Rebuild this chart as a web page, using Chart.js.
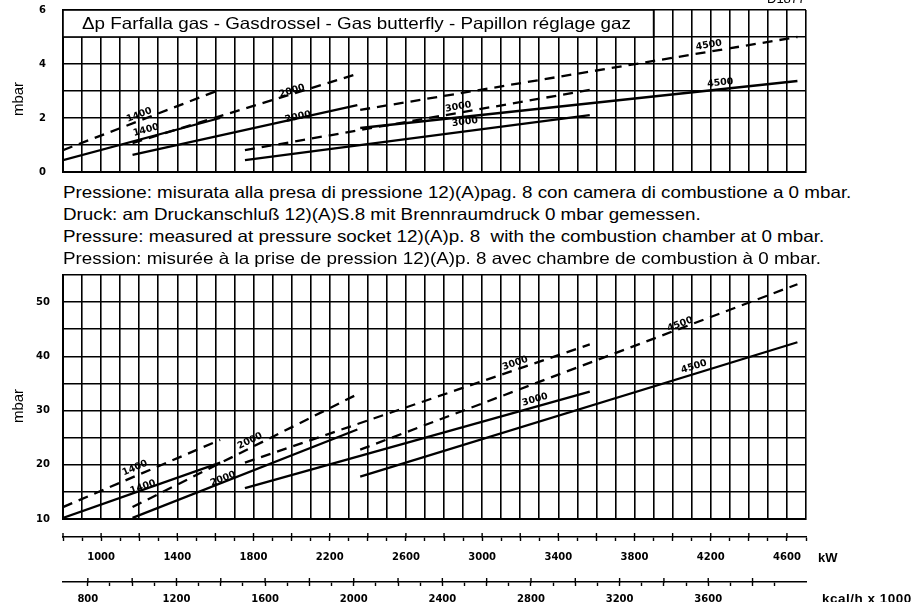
<!DOCTYPE html>
<html>
<head>
<meta charset="utf-8">
<script src="https://cdn.jsdelivr.net/npm/chart.js@4.4.0/dist/chart.umd.min.js"></script>
<style>
  html, body { margin: 0; padding: 0; background: #fff; }
  body { width: 915px; height: 602px; overflow: hidden; position: relative;
         font-family: "Liberation Sans", Arial, sans-serif; color: #000; }
  canvas { position: absolute; left: 0; }
  #topChart { top: 0; }
  #bottomChart { top: 262px; }
  .txt { position: absolute; white-space: nowrap; }
  .wide { transform: scaleX(1.14); transform-origin: 0 0; }
  .note { left: 63px; font-size: 16.5px; line-height: 17px; }
  .ylab { width: 60px; height: 16px; line-height: 16px; text-align: center;
          font-size: 15px; transform: rotate(-90deg); }
  .unit { font-weight: bold; font-size: 13px; line-height: 13px; }
</style>
</head>
<body>
<canvas id="topChart" width="915" height="180"></canvas>
<canvas id="bottomChart" width="915" height="346"></canvas>

<div class="txt" style="left:767px; top:-9px; font-size:13px;">D1877</div>
<div class="txt wide" style="left:82px; top:15px; font-size:16.5px; line-height:17px;">Δp Farfalla gas - Gasdrossel - Gas butterfly - Papillon réglage gaz</div>
<div class="txt ylab" style="left:-12px; top:91px;">mbar</div>
<div class="txt ylab" style="left:-12px; top:398px;">mbar</div>

<div class="txt note wide" style="top:184px;">Pressione: misurata alla presa di pressione 12)(A)pag. 8 con camera di combustione a 0 mbar.</div>
<div class="txt note wide" style="top:206px;">Druck: am Druckanschluß 12)(A)S.8 mit Brennraumdruck 0 mbar gemessen.</div>
<div class="txt note wide" style="top:228px;">Pressure: measured at pressure socket 12)(A)p. 8&nbsp; with the combustion chamber at 0 mbar.</div>
<div class="txt note wide" style="top:250px;">Pression: misurée à la prise de pression 12)(A)p. 8 avec chambre de combustion à 0 mbar.</div>

<div class="txt unit" style="left:818px; top:551px;">kW</div>
<div class="txt unit" style="left:822px; top:592px; font-size:13.5px; letter-spacing:0.5px;">kcal/h x 1000</div>

<script>
// ----------------------------------------------------------------------
// Data (kW on x, mbar on y)
// ----------------------------------------------------------------------
const gasSizes = ['1400', '2000', '3000', '4500'];
const kwStart  = [800, 1165, 1755, 2360];
const kwEnd    = [1625, 2345, 3565, 4655];

// upper diagram: gas butterfly
const topDashedStart = [0.81, 1.07, 0.81, 2.30];
const topDashedEnd   = [3.05, 3.63, 3.04, 5.00];
const topSolidStart  = [0.44, 0.63, 0.44, 1.63];
const topSolidEnd    = [2.00, 2.48, 2.11, 3.37];
const topTagDashedKw = [1200, 2002, 2875, 4190];
const topTagDashedP  = [2.11, 3.00, 2.41, 4.70];
const topTagSolidKw  = [1236, 2033, 2910, 4250];
const topTagSolidP   = [1.55, 2.04, 1.85, 3.30];

// lower diagram: pressure at socket
const botDashedStart = [12.2, 12.2, 20.4, 22.8];
const botDashedEnd   = [24.6, 33.0, 42.2, 53.3];
const botSolidStart  = [10.2, 10.2, 15.7, 17.8];
const botSolidEnd    = [20.4, 26.5, 33.5, 42.6];
const botTagDashedKw = [1178, 1782, 3173, 4039];
const botTagDashedP  = [19.4, 24.4, 38.7, 45.9];
const botTagSolidKw  = [1220, 1640, 3278, 4112];
const botTagSolidP   = [15.9, 17.4, 32.0, 38.1];

// axis labels
const topYLabels   = [0, 2, 4, 6];
const botYLabels   = [10, 20, 30, 40, 50];
const kwTickLabels = [1000, 1400, 1800, 2200, 2600, 3000, 3400, 3800, 4200, 4600];
const kcalTickLabels = [800, 1200, 1600, 2000, 2400, 2800, 3200, 3600, 4000];
const KW_PER_KCAL = 1.163; // 1000 kcal/h = 1.163 kW

// ----------------------------------------------------------------------
// Styles
// ----------------------------------------------------------------------
const INK = '#000';
const CLEAR = 'rgba(0,0,0,0)';
const tickFont = { family: '"DejaVu Sans", sans-serif', size: 10, weight: 'bold' };

function buildDatasets(dStart, dEnd, sStart, sEnd, tdKw, tdP, tsKw, tsP) {
  const sets = [];
  gasSizes.forEach((size, i) => {
    sets.push({
      label: size,
      data: [{ x: kwStart[i], y: dStart[i] }, { x: kwEnd[i], y: dEnd[i] }],
      borderColor: INK, borderWidth: 2.3, borderDash: [10, 7],
      pointRadius: 0, fill: false, tension: 0,
      tagX: tdKw[i], tagY: tdP[i]
    });
    sets.push({
      label: size,
      data: [{ x: kwStart[i], y: sStart[i] }, { x: kwEnd[i], y: sEnd[i] }],
      borderColor: INK, borderWidth: 2.3,
      pointRadius: 0, fill: false, tension: 0,
      tagX: tsKw[i], tagY: tsP[i]
    });
  });
  return sets;
}

// labels written along the curves
const curveTags = {
  id: 'curveTags',
  afterDatasetsDraw(chart) {
    const { ctx, scales: { x, y } } = chart;
    ctx.save();
    ctx.fillStyle = INK;
    ctx.font = 'bold 9.5px "DejaVu Sans", sans-serif';
    ctx.textAlign = 'center';
    ctx.textBaseline = 'middle';
    chart.data.datasets.forEach(ds => {
      const [p0, p1] = ds.data;
      const ang = Math.atan2(
        y.getPixelForValue(p1.y) - y.getPixelForValue(p0.y),
        x.getPixelForValue(p1.x) - x.getPixelForValue(p0.x));
      ctx.save();
      ctx.translate(x.getPixelForValue(ds.tagX), y.getPixelForValue(ds.tagY));
      ctx.rotate(ang);
      ctx.fillText(ds.label, 0, 0);
      ctx.restore();
    });
    ctx.restore();
  }
};

// white caption box in the upper diagram (800..3900 kW, 5..6 mbar)
const captionBox = {
  id: 'captionBox',
  beforeDatasetsDraw(chart) {
    const { ctx, scales: { x, y } } = chart;
    const l = x.getPixelForValue(800), r = x.getPixelForValue(3900);
    const t = y.getPixelForValue(6), b = y.getPixelForValue(5);
    ctx.save();
    ctx.fillStyle = '#fff';
    ctx.fillRect(l, t, r - l, b - t);
    ctx.strokeStyle = INK;
    ctx.lineWidth = 1.6;
    ctx.strokeRect(l, t, r - l, b - t);
    ctx.restore();
  }
};

// major ticks of the lower scales cross the axis line
const majorTicks = {
  id: 'majorTicks',
  afterDraw(chart) {
    const ctx = chart.ctx;
    ['kw', 'kcal'].forEach(id => {
      const s = chart.scales[id];
      ctx.save();
      ctx.strokeStyle = INK;
      ctx.lineWidth = 1.4;
      s.ticks.forEach(t => {
        if (Math.round(t.value) % 200 !== 0) return;
        const px = s.getPixelForValue(t.value);
        ctx.beginPath();
        ctx.moveTo(px, s.top - 4);
        ctx.lineTo(px, s.top + 1);
        ctx.stroke();
      });
      ctx.restore();
    });
  }
};

function gridAxis(extra) {
  return Object.assign({
    type: 'linear', min: 800, max: 4700,
    ticks: { stepSize: 100, display: false },
    grid: { color: INK, lineWidth: 1.6, drawTicks: false },
    border: { display: true, color: INK, width: 2 }
  }, extra);
}

// tick padding would also pad the chart area, so a clear tick mark makes the gap
function yAxis(min, max, step, labels, gap) {
  return {
    type: 'linear', min: min, max: max,
    ticks: {
      stepSize: step, padding: 0, color: INK, font: tickFont, autoSkip: false,
      callback: v => labels.includes(v) ? String(v) : ''
    },
    grid: { color: INK, lineWidth: 1.6, drawTicks: true, tickLength: gap, tickColor: CLEAR },
    border: { display: true, color: INK, width: 2 },
    afterFit: s => { s.width = 63; }
  };
}

// ----------------------------------------------------------------------
// Upper chart
// ----------------------------------------------------------------------
new Chart(document.getElementById('topChart'), {
  type: 'line',
  data: {
    datasets: buildDatasets(topDashedStart, topDashedEnd, topSolidStart, topSolidEnd,
      topTagDashedKw, topTagDashedP, topTagSolidKw, topTagSolidP)
  },
  options: {
    responsive: false, animation: false,
    layout: { padding: { left: 0, top: 10, right: 109, bottom: 8 } },
    scales: {
      x: gridAxis({ afterFit: s => { s.height = 0; } }),
      y: yAxis(0, 6, 1, topYLabels, 17)
    },
    plugins: { legend: { display: false }, tooltip: { enabled: false } }
  },
  plugins: [captionBox, curveTags]
});

// ----------------------------------------------------------------------
// Lower chart with kW and kcal/h scales
// ----------------------------------------------------------------------
function lowerAxis(min, max, labels, pad, h, weight, filterHundreds) {
  const axis = {
    type: 'linear', position: 'bottom', weight: weight, min: min, max: max,
    ticks: {
      stepSize: 100, autoSkip: false, maxRotation: 0, padding: pad, color: INK, font: tickFont,
      callback: v => labels.includes(Math.round(v)) ? String(Math.round(v)) : ''
    },
    grid: { drawOnChartArea: false, drawTicks: true, tickLength: 4, tickColor: INK, tickWidth: 1.4 },
    border: { display: true, color: INK, width: 1.6 },
    afterFit: s => { s.height = h; }
  };
  if (filterHundreds) {
    axis.afterBuildTicks = s => {
      s.ticks = s.ticks.filter(t => Math.abs(t.value - Math.round(t.value / 100) * 100) < 1e-6);
    };
  }
  return axis;
}

new Chart(document.getElementById('bottomChart'), {
  type: 'line',
  data: {
    datasets: buildDatasets(botDashedStart, botDashedEnd, botSolidStart, botSolidEnd,
      botTagDashedKw, botTagDashedP, botTagSolidKw, botTagSolidP)
  },
  options: {
    responsive: false, animation: false,
    layout: { padding: { left: 0, top: 13, right: 109, bottom: 0 } },
    scales: {
      x: gridAxis({ position: 'bottom', weight: 0, afterFit: s => { s.height = 18; } }),
      kw: lowerAxis(800, 4700, kwTickLabels, 10, 45, 1, false),
      kcal: lowerAxis(800 / KW_PER_KCAL, 4700 / KW_PER_KCAL, kcalTickLabels, 7, 26, 2, true),
      y: yAxis(10, 55, 5, botYLabels, 13)
    },
    plugins: { legend: { display: false }, tooltip: { enabled: false } }
  },
  plugins: [curveTags, majorTicks]
});
</script>
</body>
</html>
